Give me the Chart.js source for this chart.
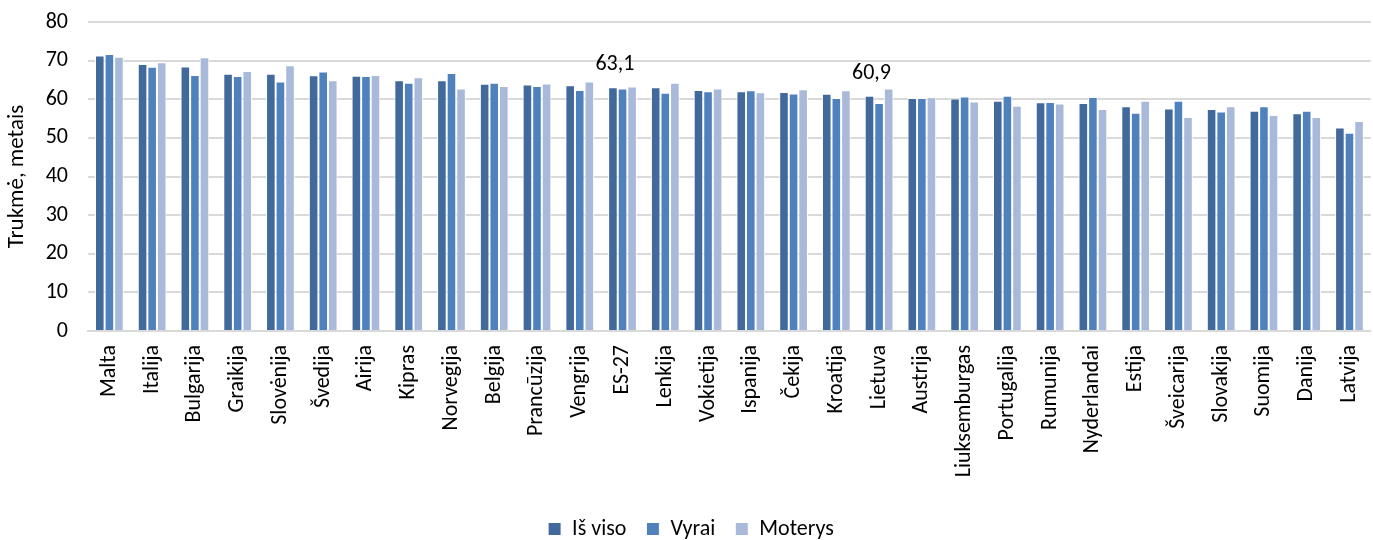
<!DOCTYPE html>
<html>
<head>
<meta charset="utf-8">
<script src="https://cdn.jsdelivr.net/npm/chart.js@4.4.0/dist/chart.umd.min.js"></script>
<style>
  html, body { margin: 0; padding: 0; background: #fff; overflow: hidden; }
  #wrap { position: relative; width: 1390px; height: 540px; }
</style>
</head>
<body>
<div id="wrap"><canvas id="c"></canvas></div>
<script>
const categories = ["Malta","Italija","Bulgarija","Graikija","Slovėnija","Švedija","Airija","Kipras","Norvegija","Belgija","Prancūzija","Vengrija","ES-27","Lenkija","Vokietija","Ispanija","Čekija","Kroatija","Lietuva","Austrija","Liuksemburgas","Portugalija","Rumunija","Nyderlandai","Estija","Šveicarija","Slovakija","Suomija","Danija","Latvija"];
const isViso  = [71.3,69.1,68.5,66.6,66.6,66.2,66.1,64.9,64.9,64.0,63.8,63.6,63.1,63.1,62.4,62.1,61.9,61.4,60.9,60.3,60.2,59.6,59.2,59.0,58.2,57.6,57.5,57.0,56.4,52.7];
const vyrai   = [71.7,68.4,66.3,66.0,64.6,67.2,66.0,64.3,66.8,64.3,63.4,62.4,62.8,61.7,62.1,62.3,61.5,60.3,59.0,60.3,60.7,60.9,59.3,60.6,56.5,59.6,56.8,58.2,57.0,51.3];
const moterys = [71.0,69.6,70.9,67.3,68.8,64.9,66.3,65.7,62.8,63.4,64.1,64.6,63.3,64.3,62.8,61.8,62.6,62.3,62.8,60.5,59.4,58.3,58.9,57.5,59.6,55.4,58.2,55.9,55.4,54.4];
const seriesNames = ["Iš viso","Vyrai","Moterys"];
const labelledCategories = ["ES-27","Lietuva"];
const yTicks = [0,10,20,30,40,50,60,70,80];

const FONT = "Carlito, Lato, 'Liberation Sans', sans-serif";
const colors = ["#41699C","#4F81BD","#A9B9D9"];

const dataLabelPlugin = {
  id: 'dataLabels',
  afterDatasetsDraw(chart) {
    const ctx = chart.ctx;
    const meta = chart.getDatasetMeta(0);
    ctx.save();
    ctx.font = "22px " + FONT;
    ctx.fillStyle = "#000";
    ctx.textAlign = "center";
    ctx.textBaseline = "alphabetic";
    labelledCategories.forEach(cat => {
      const i = categories.indexOf(cat);
      const el = meta.data[i];
      const txt = isViso[i].toFixed(1).replace('.', ',');
      ctx.fillText(txt, el.x + 2, el.y - 17);
    });
    ctx.restore();
  }
};

new Chart(document.getElementById('c'), {
  type: 'bar',
  data: {
    labels: categories,
    datasets: [isViso, vyrai, moterys].map((d, k) => ({
      label: seriesNames[k],
      data: d,
      backgroundColor: colors[k],
      borderColor: "#ffffff",
      borderWidth: 1,
      borderSkipped: 'bottom',
      barPercentage: 1.0,
      categoryPercentage: 0.672
    }))
  },
  options: {
    responsive: true,
    maintainAspectRatio: false,
    animation: false,
    layout: { padding: { top: 22, right: 8, left: 0, bottom: -10 } },
    plugins: {
      legend: {
        position: 'bottom',
        labels: {
          boxWidth: 13, boxHeight: 13, padding: 20,
          color: "#000",
          font: { family: FONT, size: 22 }
        }
      },
      tooltip: { enabled: false }
    },
    scales: {
      x: {
        grid: { display: false, drawTicks: false },
        border: { display: true, color: "#D9D9D9", width: 2 },
        ticks: {
          autoSkip: false, maxRotation: 90, minRotation: 90, padding: 14,
          color: "#000", font: { family: FONT, size: 22 }
        },
        afterFit(scale) { scale.height = 167; scale.paddingTop = 0; scale.paddingBottom = 0; }
      },
      y: {
        min: 0, max: 80,
        afterBuildTicks(scale) { scale.ticks = yTicks.map(v => ({ value: v })); },
        grid: { color: "#D9D9D9", lineWidth: 2, drawTicks: false },
        border: { display: false },
        ticks: {
          padding: 20, color: "#000",
          font: { family: FONT, size: 22 }
        },
        title: {
          display: true, text: "Trukmė, metais", color: "#000",
          font: { family: FONT, size: 23 },
          padding: { top: 3, bottom: 0 }
        },
        afterFit(scale) { scale.width = 88; scale.paddingTop = 0; scale.paddingBottom = 0; }
      }
    }
  },
  plugins: [dataLabelPlugin]
});
</script>
</body>
</html>
